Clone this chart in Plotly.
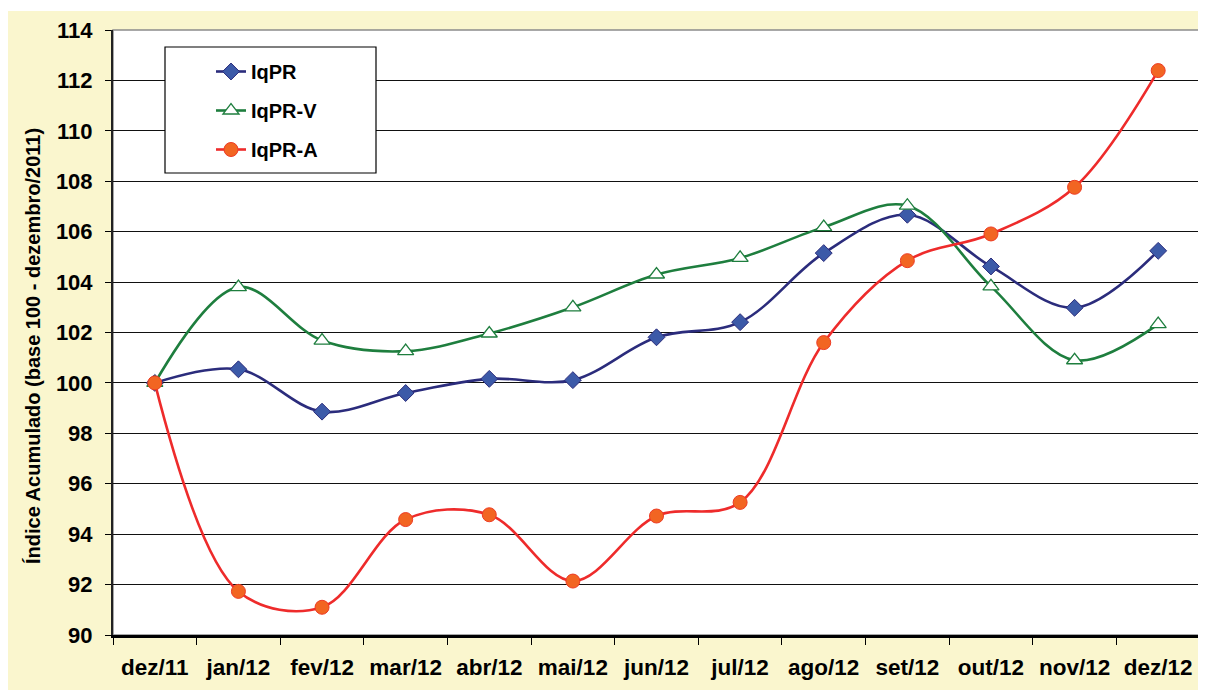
import plotly.graph_objects as go

categories = ["dez/11", "jan/12", "fev/12", "mar/12", "abr/12", "mai/12", "jun/12",
              "jul/12", "ago/12", "set/12", "out/12", "nov/12", "dez/12"]
iqpr = [100.0, 100.54, 98.86, 99.6, 100.16, 100.11, 101.81, 102.41, 105.15, 106.67, 104.62, 102.98, 105.24]
iqpr_v = [100.0, 103.8, 101.68, 101.26, 101.96, 103.0, 104.3, 104.96, 106.18, 107.03, 103.83, 100.9, 102.33]
iqpr_a = [100.0, 91.73, 91.1, 94.58, 94.77, 92.14, 94.72, 95.26, 101.6, 104.85, 105.91, 107.76, 112.39]
y_ticks = [90, 92, 94, 96, 98, 100, 102, 104, 106, 108, 110, 112, 114]
y_title = "Índice Acumulado (base 100 - dezembro/2011)"

FONT = "Liberation Sans, Arial, sans-serif"
# the page adds an 8px body margin, so the figure is a bit smaller than the window
W, H = 1198, 684
L, R, T, B = 105, 6, 22, 57
PW, PH = W - L - R, H - T - B


def px_x(x):
    return (x - L) / PW


def px_y(y):
    return (H - B - y) / PH


fig = go.Figure()
fig.add_trace(go.Scatter(
    x=categories, y=iqpr, name="IqPR", mode="lines+markers",
    line=dict(color="#2B2C7C", width=2.6, shape="spline", smoothing=1.0),
    marker=dict(symbol="diamond", size=13, color="#3C5AA8", line=dict(color="#2B2C7C", width=1)),
    legendgroup="a",
))
fig.add_trace(go.Scatter(
    x=categories, y=iqpr_v, name="IqPR-V", mode="lines+markers",
    line=dict(color="#1E7E3E", width=2.6, shape="spline", smoothing=1.0),
    marker=dict(symbol="triangle-up", size=14, color="white", line=dict(color="#1E7E3E", width=1.3)),
    legendgroup="b",
))
fig.add_trace(go.Scatter(
    x=categories, y=iqpr_a, name="IqPR-A", mode="lines+markers",
    line=dict(color="#EE2B2B", width=2.6, shape="spline", smoothing=1.0),
    marker=dict(symbol="circle", size=14, color="#F26522", line=dict(color="#EE3B24", width=1)),
    legendgroup="c",
))

shapes = [
    # outer yellow panel
    dict(type="rect", xref="paper", yref="paper", x0=px_x(0), x1=px_x(W), y0=px_y(682), y1=px_y(3),
         fillcolor="#FAF6CE", line=dict(width=0), layer="below"),
    # plot area
    dict(type="rect", xref="paper", yref="paper", x0=0, x1=1, y0=0, y1=1,
         fillcolor="white", line=dict(color="#8C8C8C", width=1.5), layer="below"),
    # legend box
    dict(type="rect", xref="paper", yref="paper", x0=px_x(157), x1=px_x(368), y0=px_y(165), y1=px_y(39),
         fillcolor="white", line=dict(color="black", width=1.2), layer="above"),
]

fig.update_layout(
    width=W, height=H,
    margin=dict(l=L, r=R, t=T, b=B, autoexpand=False),
    paper_bgcolor="white",
    plot_bgcolor="rgba(0,0,0,0)",
    shapes=shapes,
    showlegend=True,
    legend=dict(
        x=px_x(203), y=px_y(44), xanchor="left", yanchor="top",
        bgcolor="rgba(0,0,0,0)", borderwidth=0,
        font=dict(family=FONT, size=20, color="black", weight="bold"),
        tracegroupgap=10,
    ),
    xaxis=dict(
        type="category", range=[-0.5, 12.5],
        showgrid=False, showline=True, linecolor="black", linewidth=2.5,
        ticks="outside", tickson="boundaries", ticklen=7, tickcolor="black", tickwidth=1.2,
        tickfont=dict(family=FONT, size=22.5, color="black", weight="bold"),
        ticklabelstandoff=10,
    ),
    yaxis=dict(
        range=[90, 114], tickvals=y_ticks,
        showgrid=True, gridcolor="#111111", gridwidth=1.3,
        showline=True, linecolor="#222222", linewidth=2,
        ticks="outside", ticklen=6, tickcolor="black", tickwidth=1.2,
        tickfont=dict(family=FONT, size=22, color="black", weight="bold"),
        ticklabelstandoff=8,
        zeroline=False,
    ),
    annotations=[dict(
        text=y_title, textangle=-90, showarrow=False,
        xref="paper", yref="paper", x=px_x(25), y=px_y(338),
        xanchor="center", yanchor="middle",
        font=dict(family=FONT, size=20, color="black", weight="bold"),
    )],
)

fig.write_html("out.html")
